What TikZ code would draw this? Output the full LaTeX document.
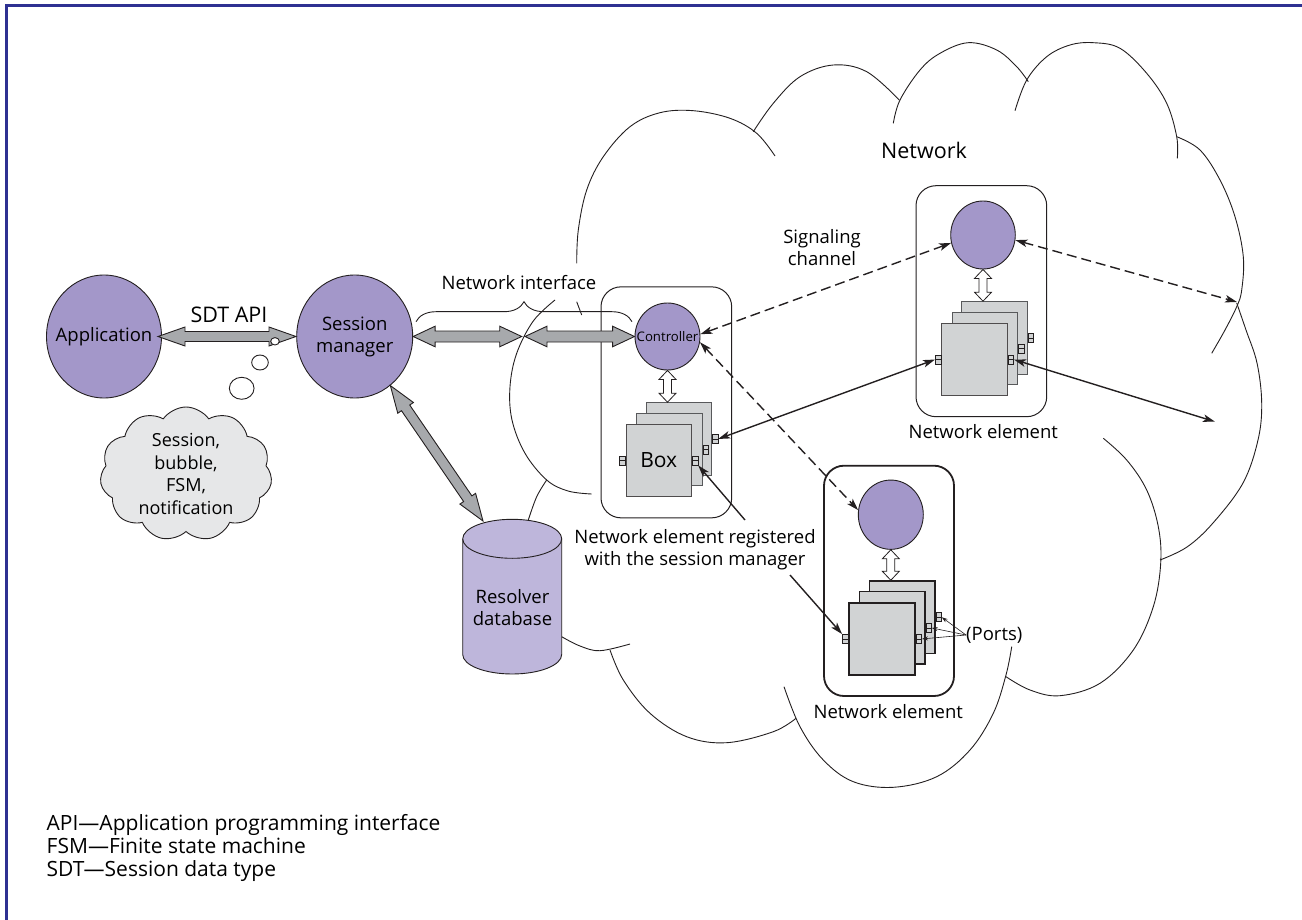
\documentclass[tikz,border=0pt]{standalone}
\usepackage{fontspec}
\setmainfont{Open Sans}
\usetikzlibrary{arrows.meta,calc,decorations.pathreplacing,shapes.geometric,shapes.symbols}
\definecolor{purp}{RGB}{163,151,201}
\definecolor{dbcol}{RGB}{190,182,219}
\definecolor{arrgray}{RGB}{167,169,172}
\definecolor{boxgray}{RGB}{209,211,212}
\definecolor{boxline}{RGB}{88,89,91}
\definecolor{thought}{RGB}{230,231,232}
\definecolor{framecol}{RGB}{46,49,146}
\definecolor{ink}{RGB}{35,31,32}
% fat double arrow: #1 start, #2 end, #3 head length, #4 head half width, #5 shaft half width, #6 style
\newcommand\fatarrow[6]{%
  \draw[#6] let \p1=(#1), \p2=(#2), \n1={atan2(\y2-\y1,\x2-\x1)}, \n2={cos(\n1)}, \n3={sin(\n1)} in
  (\p1)
  -- ({\x1+#3*\n2-#4*\n3},{\y1+#3*\n3+#4*\n2})
  -- ({\x1+#3*\n2-#5*\n3},{\y1+#3*\n3+#5*\n2})
  -- ({\x2-#3*\n2-#5*\n3},{\y2-#3*\n3+#5*\n2})
  -- ({\x2-#3*\n2-#4*\n3},{\y2-#3*\n3+#4*\n2})
  -- (\p2)
  -- ({\x2-#3*\n2+#4*\n3},{\y2-#3*\n3-#4*\n2})
  -- ({\x2-#3*\n2+#5*\n3},{\y2-#3*\n3-#5*\n2})
  -- ({\x1+#3*\n2+#5*\n3},{\y1+#3*\n3-#5*\n2})
  -- ({\x1+#3*\n2+#4*\n3},{\y1+#3*\n3-#4*\n2})
  -- cycle;}
\tikzset{
  circ/.style={ellipse, draw=ink, fill=purp, line width=0.9, inner sep=0},
  elem/.style={rectangle, rounded corners=20, draw=ink, line width=1, minimum width=130.7, minimum height=231, inner sep=0},
  bx/.style={rectangle, draw=boxline, fill=boxgray, line width=1, minimum width=65.5, minimum height=72.5, inner sep=0},
  port/.style={rectangle, draw=ink, fill=boxgray, line width=0.7, minimum width=5.5, minimum height=9, inner sep=0,
    path picture={\draw[ink, line width=0.6] (path picture bounding box.west) -- (path picture bounding box.east);}},
  bub/.style={ellipse, draw=ink, fill=white, inner sep=0, line width=0.9},
  cl/.style={draw=ink, line width=0.9},
  garrow/.style={draw=ink, fill=arrgray, line width=0.9, line join=miter},
  warrow/.style={draw=ink, fill=white, line width=0.8},
  sig/.style={draw=ink, line width=1.4, dash pattern=on 10pt off 5pt, <->},
  solid arr/.style={draw=ink, line width=1.4, <->},
  lbl/.style={inner sep=0, align=center},
  big/.style={font=\fontsize{21.5}{24}\selectfont},
  legendline/.style={anchor=base west, inner sep=0, font=\fontsize{21}{23}\selectfont},
  >={Stealth[length=12pt,width=7.5pt,inset=3pt]}
}
\begin{document}
\begin{tikzpicture}[x=1pt,y=-1pt,font=\fontsize{18.5}{22}\selectfont]
\useasboundingbox (0,0) rectangle (1302,920);
% frame
\draw[framecol, line width=2.5] (6.5,920) -- (6.5,5.5) -- (1302,5.5);

% network cloud (open arcs)
\draw[cl] plot[smooth, tension=0.6] coordinates {(576.7,263.3)(578.3,230)(586.7,190)(603.3,156.7)(630,126.7)(660,112.7)(693.3,110.7)(730,118.3)(756.7,133.3)(775,156)};
\draw[cl] (576.7,301.7) -- (581.7,315);
\draw[cl] plot[smooth, tension=0.6] coordinates {(753.3,131.7)(773.3,103.3)(800,76.7)(833.3,65)(866.7,71.7)(899.3,100)};
\draw[cl] plot[smooth, tension=0.6] coordinates {(893.3,123.3)(900,100)(920,70)(940,53.3)(968.3,42.7)(996.7,50)(1016.7,66.7)(1028.3,81.7)};
\draw[cl] plot[smooth, tension=0.6] coordinates {(1015,110.7)(1026.7,80)(1046.7,56.7)(1070,45)(1093.3,42.7)(1120,48.3)(1146.7,73.3)(1166.7,103.3)(1176.7,136.7)(1177.3,158.3)};
\draw[cl] plot[smooth, tension=0.6] coordinates {(1176.7,136.7)(1200,150)(1220,180)(1235,216.7)(1243.3,256.7)(1241.7,290)(1236.7,306.7)(1225,330)(1211.7,353.3)};
\draw[cl] plot[smooth, tension=0.6] coordinates {(1236.7,303)(1246,330)(1257,363)(1261.7,403)(1258,440)(1243,483)(1213,523)(1187,547)(1160,560)};
\draw[cl] plot[smooth, tension=0.6] coordinates {(1103.3,438.3)(1126.7,460)(1146.7,490)(1158.3,526.7)(1160.7,563.3)(1153.3,606.7)(1133.3,650)(1100,683.3)(1060,695.7)(1030,690)(1006,676.7)};
\draw[cl] plot[smooth, tension=0.6] coordinates {(1011.7,646.7)(1006,675)(993.3,713.3)(970,750)(936.7,776.7)(893.3,787.3)(853.3,781.7)(823.3,760)(800,726.7)(784,686.7)};
\draw[cl] plot[smooth, tension=0.6] coordinates {(796,718.3)(773.3,731.7)(726.7,742.7)(686.7,736.7)(650,713.3)(623.3,680)(610,650)};
\draw[cl] plot[smooth, tension=0.6] coordinates {(561.7,636.7)(580,646)(600,650.7)(630,644)};
\draw[cl] plot[smooth, tension=0.6] coordinates {(555,300)(533.3,321)(516.7,353.3)(510,386.7)(512,420)(525,453.3)(546.7,480)(568,491)(591.7,494)};
\draw[cl] plot[smooth, tension=0.6] coordinates {(546.7,480)(536.7,496.7)(528.3,520)};

\node[lbl, big] (netlbl) at (924,150) {Network};

% resolver database
\filldraw[draw=ink, fill=dbcol, line width=0.9] (462.7,538.8) -- (462.7,654.5)
  arc[start angle=180, end angle=0, x radius=49.5, y radius=19.5]
  -- (561.7,538.8) arc[start angle=0, end angle=-180, x radius=49.5, y radius=19.5] -- cycle;
\draw[ink, line width=0.9] (462.7,538.8) arc[start angle=180, end angle=0, x radius=49.5, y radius=19.5];
\node[lbl] (db) at (512.5,608) {Resolver\\database};
\coordinate (dbtop) at (483,521);

% main circles
\node[circ, minimum width=115, minimum height=123] (app) at (104,336.5) {};
\node[lbl] (applbl) at (app) {Application};
\node[circ, minimum width=116, minimum height=123] (sm) at (354.7,336.5) {};
\node[lbl] (smlbl) at (sm) {Session\\manager};

% network elements
\node[elem] (ne1) at (666.35,402.35) {};
\node[elem] (ne2) at (981.35,301.2) {};
\node[elem, line width=1.8, minimum width=130, minimum height=230.3] (ne3) at (889,580.85) {};

\node[circ, minimum width=65, minimum height=67] (c1) at (667.5,336.5) {};
\node[lbl, font=\fontsize{13.2}{15}\selectfont] (c1lbl) at (c1) {Controller};
\node[circ, minimum width=64.6, minimum height=68] (c2) at (983,235) {};
\node[circ, minimum width=65, minimum height=69.3] (c3) at (890.8,514.7) {};

% box stacks element 1
\node[bx] (e1b) at (678.75,438.95) {};
\node[port, anchor=west] (e1br) at (e1b.east) {};
\node[bx] (e1m) at (669.45,449.55) {};
\node[port, anchor=west] (e1mr) at (e1m.east) {};
\node[bx, draw=ink!80] (e1f) at (658.75,460.55) {};
\node[port, anchor=west] (e1fr) at (e1f.east) {};
\node[port, anchor=east] (e1fl) at (e1f.west) {};
\node[lbl, font=\fontsize{21}{24}\selectfont] (boxlbl) at (e1f) {Box};

% box stacks element 2
\node[bx] (e2b) at (994.45,337.95) {};
\node[port, anchor=west] (e2br) at (e2b.east) {};
\node[bx] (e2m) at (985.05,348.55) {};
\node[port, anchor=west] (e2mr) at (e2m.east) {};
\node[bx, draw=ink!80] (e2f) at (974.45,359.55) {};
\node[port, anchor=west] (e2fr) at (e2f.east) {};
\node[port, anchor=east] (e2fl) at (e2f.west) {};

% box stacks element 3
\node[bx, draw=ink, line width=1.5] (e3b) at (902.05,617.25) {};
\node[port, anchor=west] (e3br) at (e3b.east) {};
\node[bx, draw=ink, line width=1.5] (e3m) at (892.05,627.95) {};
\node[port, anchor=west] (e3mr) at (e3m.east) {};
\node[bx, draw=ink, line width=2] (e3f) at (882.05,638.95) {};
\node[port, anchor=west] (e3fr) at (e3f.east) {};
\node[port, anchor=east] (e3fl) at (e3f.west) {};

% white hollow arrows controller <-> boxes
\fatarrow{c1.south}{c1.south |- e1b.north}{9}{8.5}{4}{warrow}
\fatarrow{c2.south}{c2.south |- e2b.north}{9}{8.5}{4}{warrow}
\fatarrow{c3.south}{c3.south |- e3b.north}{9}{8.5}{4}{warrow}

% gray fat arrows
\coordinate (nimid1) at (521.7,336.5);
\coordinate (nimid2) at (525,336.5);
\coordinate (sdtl) at (158,336.5);
\coordinate (sdtr) at (296,336.5);
\fatarrow{sdtl}{sdtr}{27}{9.5}{5}{garrow}
\fatarrow{sm.east}{nimid1}{22}{10.3}{5.5}{garrow}
\fatarrow{nimid2}{c1.west}{22}{10.3}{5.5}{garrow}
\fatarrow{sm.-54}{dbtop}{27}{9.5}{5}{garrow}

% thought bubbles
\node[bub, minimum width=8.6, minimum height=7.4] (t1) at (275,341.3) {};
\node[bub, minimum width=16.6, minimum height=15] (t2) at (260,362.5) {};
\node[bub, minimum width=24.7, minimum height=22] (t3) at (241.7,388.3) {};
\node[cloud, cloud puffs=11, cloud puff arc=110, aspect=1.35, draw=ink, fill=thought, line width=0.9,
  minimum width=172, minimum height=134, inner sep=0] (tc) at (186,474) {};
\node[lbl, font=\fontsize{18}{22.5}\selectfont] (tclbl) at (tc) {Session,\\bubble,\\FSM,\\notification};

% labels
\node[lbl, big] (sdtlbl) at (229,315) {SDT API};
\node[lbl] (nilbl) at (519,283) {Network interface};
\draw[ink, line width=0.9, decorate, decoration={brace, amplitude=20}] (416,321.7) -- (632,321.7);
\node[lbl] (siglbl) at (822,248) {Signaling\\channel};
\node[lbl] (ne2lbl) at (983.3,431.7) {Network element};
\node[lbl] (ne3lbl) at (888.3,711.7) {Network element};
\node[lbl] (reglbl) at (695,550) {Network element registered\\with the session manager};
\node[lbl, anchor=west] (portslbl) at (966,635) {(Ports)};

% signaling channels
\coordinate (sigend) at (1237,302);
\draw[sig] (c1.4) -- (c2.194);
\draw[sig] (c1.-10) -- (c3.172);
\draw[sig] (c2.-9) -- (sigend);

% data connections
\coordinate (outend) at (1215,421.7);
\draw[solid arr] (e1br.east) -- (e2fl.west);
\draw[solid arr] (e2fr.east) -- (outend);

% registered arrows
\coordinate (reg1s) at (745,520);
\coordinate (reg2s) at (790,575);
\draw[ink, line width=1.4, ->] (reg1s) -- (e1fr.south east);
\draw[ink, line width=1.4, ->] (reg2s) -- (e3fl.north west);

% ports arrows
\draw[ink, line width=0.6, -{Stealth[length=6pt,width=4pt]}] (portslbl.west) -- (e3br.east);
\draw[ink, line width=0.6, -{Stealth[length=6pt,width=4pt]}] (portslbl.west) -- (e3mr.east);
\draw[ink, line width=0.6, -{Stealth[length=6pt,width=4pt]}] (portslbl.west) -- (e3fr.east);

% legend
\node[legendline] (leg1) at (46.5,830.5) {API—Application programming interface};
\node[legendline] (leg2) at (46.5,853.3) {FSM—Finite state machine};
\node[legendline] (leg3) at (46.5,876.1) {SDT—Session data type};
\end{tikzpicture}
\end{document}
